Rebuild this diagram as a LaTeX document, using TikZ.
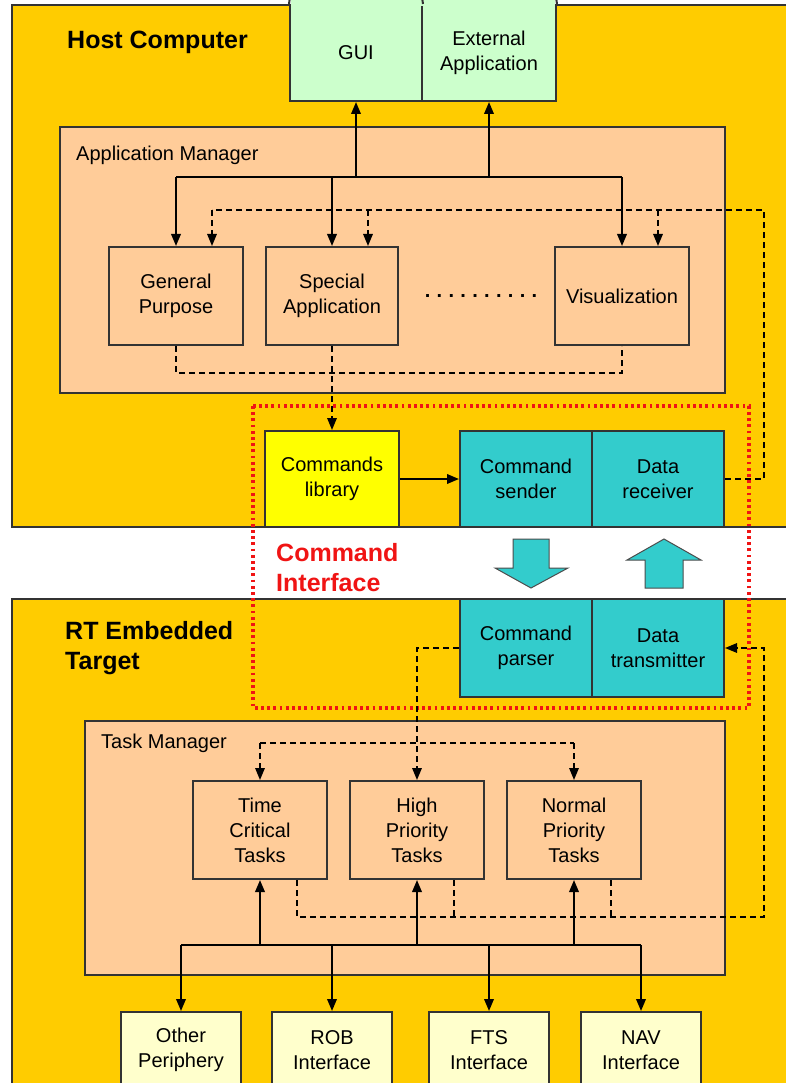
\documentclass[tikz,border=0pt]{standalone}
\usepackage{fontspec}
\setmainfont{Liberation Sans}
\usetikzlibrary{arrows.meta}
\definecolor{panelgold}{RGB}{255,204,0}
\definecolor{peach}{RGB}{255,204,153}
\definecolor{paleGreen}{RGB}{204,255,204}
\definecolor{libYellow}{RGB}{255,255,0}
\definecolor{ifCyan}{RGB}{51,204,204}
\definecolor{paleYellow}{RGB}{255,255,204}
\definecolor{frameRed}{RGB}{240,20,20}
\begin{document}
\begin{tikzpicture}[x=1pt,y=-1pt,
  panel/.style={draw=black!80, line width=2pt, fill=panelgold},
  mgr/.style={draw=black!80, line width=2pt, fill=peach, inner sep=0pt},
  boxline/.style={draw=black!80, line width=2pt},
  box/.style={boxline, align=center, inner sep=0pt,
              font=\fontsize{20}{25}\selectfont, text=black},
  title/.style={font=\fontsize{25}{30}\selectfont\bfseries, align=left, inner sep=0pt, anchor=west},
  label/.style={font=\fontsize{20}{25}\selectfont, inner sep=0pt, anchor=west},
  ln/.style={line width=2pt, draw=black},
  arr/.style={ln, -{Triangle[length=12pt,width=9.5pt]}},
  dsh/.style={line width=1.6pt, draw=black, dash pattern=on 6pt off 4pt},
  dsharr/.style={dsh, -{Triangle[length=12pt,width=9.5pt]}},
  blockarrow/.style={fill=ifCyan, draw=black!70, line width=1pt, line join=miter},
  redframe/.style={draw=frameRed, line width=3.2pt, dash pattern=on 2.8pt off 3.4pt}
]
\useasboundingbox (0,0) rectangle (786,1083);
\begin{scope}
\clip (0,0) rectangle (786,1083);
\fill[white] (0,0) rectangle (786,1083);

% ---------- the two platforms ----------
\draw[panel] (12,5) rectangle (800,527);
\draw[panel] (12,599) rectangle (800,1100);
\node[title] (hostT) at (67,42) {Host Computer};
\node[title] (rtT) at (65,648) {RT Embedded\\Target};

% ---------- host side ----------
\node[box, fill=paleGreen, minimum width=132pt, minimum height=96pt] (gui) at (356,53) {GUI};
\node[box, fill=paleGreen, minimum width=134pt, minimum height=96pt] (ext) at (489,53) {External\\Application};
% the two windows run on past the top edge
\fill[paleGreen] (291,-3) rectangle (555,6);
\draw[boxline] (gui.north west) -- (290,-3);
\draw[boxline] (gui.north east) -- (422,-3);
\draw[boxline] (ext.north east) -- (556,-3);

\node[mgr, minimum width=665pt, minimum height=266pt] (appmgr) at (392.5,260) {};
\node[label] (appmgrT) at (76,155) {Application Manager};

\node[box, fill=peach, minimum width=134pt, minimum height=98pt] (gp) at (176,296) {General\\Purpose};
\node[box, fill=peach, minimum width=132pt, minimum height=98pt] (sa) at (332,296) {Special\\Application};
\node[box, fill=peach, minimum width=134pt, minimum height=98pt] (vis) at (622,296) {Visualization};
\node[font=\fontsize{20}{25}\selectfont\bfseries, inner sep=0pt] (more) at (481,296)
  {.\kern6.3pt.\kern6.3pt.\kern6.3pt.\kern6.3pt.\kern6.3pt.\kern6.3pt.\kern6.3pt.\kern6.3pt.\kern6.3pt.};

\node[box, fill=libYellow, minimum width=134pt, minimum height=96pt] (cl) at (332,479) {Commands\\library};
\node[box, fill=ifCyan, minimum width=132pt, minimum height=96pt] (cs) at (526,479) {Command\\sender};
\node[box, fill=ifCyan, minimum width=132pt, minimum height=96pt] (dr) at (658,479) {Data\\receiver};

% solid distribution from GUI / external application
\coordinate (hb) at (0,177);
\draw[ln] (gp.north |- hb) -- (vis.north |- hb);
\draw[arr] (gui.south |- hb) -- (gui.south);
\draw[arr] (ext.south |- hb) -- (ext.south);
\draw[arr] (gp.north |- hb) -- (gp.north);
\draw[arr] (sa.north |- hb) -- (sa.north);
\draw[arr] (vis.north |- hb) -- (vis.north);

% data feedback from the receiver to the applications
\coordinate (dR) at (764,210);
\draw[dsh] (dr.east) -| (dR) -- ([xshift=36pt]gp.north |- dR);
\draw[dsharr] ([xshift=36pt]gp.north |- dR) -- ([xshift=36pt]gp.north);
\draw[dsharr] ([xshift=36pt]sa.north |- dR) -- ([xshift=36pt]sa.north);
\draw[dsharr] ([xshift=36pt]vis.north |- dR) -- ([xshift=36pt]vis.north);

% applications to the commands library
\coordinate (dB) at (0,373);
\draw[dsh] (gp.south) -- (gp.south |- dB) -- (vis.south |- dB) -- (vis.south);
\draw[dsharr] (sa.south) -- (cl.north);
\draw[arr] (cl.east) -- (cs.west);

% ---------- command interface ----------
\draw[redframe] (253,406) rectangle (749,708);
\node[title, text=frameRed] (ciT) at (276,568) {Command\\Interface};
\draw[blockarrow] (513,539) -- (549,539) -- (549,568) -- (568,568) -- (531,588)
  -- (495,568) -- (513,568) -- cycle;
\draw[blockarrow] (664,539) -- (701,560) -- (683,560) -- (683,588) -- (645,588)
  -- (645,560) -- (627,560) -- cycle;

% ---------- embedded target ----------
\node[box, fill=ifCyan, minimum width=132pt, minimum height=98pt] (cp) at (526,648) {Command\\parser};
\node[box, fill=ifCyan, minimum width=132pt, minimum height=98pt] (dt) at (658,648) {Data\\transmitter};

\node[mgr, minimum width=640pt, minimum height=254pt] (taskmgr) at (405,848) {};
\node[label] (taskmgrT) at (101,743) {Task Manager};

\node[box, fill=peach, minimum width=134pt, minimum height=98pt] (tc) at (260,830) {Time\\Critical\\Tasks};
\node[box, fill=peach, minimum width=134pt, minimum height=98pt] (hp) at (417,830) {High\\Priority\\Tasks};
\node[box, fill=peach, minimum width=134pt, minimum height=98pt] (np) at (574,830) {Normal\\Priority\\Tasks};

\node[box, fill=paleYellow, minimum width=120pt, minimum height=76pt] (op) at (181,1050) {Other\\Periphery};
\node[box, fill=paleYellow, minimum width=120pt, minimum height=76pt] (rob) at (332,1050) {ROB\\Interface};
\node[box, fill=paleYellow, minimum width=120pt, minimum height=76pt] (fts) at (489,1050) {FTS\\Interface};
\node[box, fill=paleYellow, minimum width=120pt, minimum height=76pt] (nav) at (641,1050) {NAV\\Interface};

% parsed commands to the high priority tasks
\draw[dsharr] (cp.west) -| (hp.north);

% task manager internal dispatch
\coordinate (tT) at (0,743);
\draw[dsh] (tc.north |- tT) -- (np.north |- tT);
\draw[dsharr] (tc.north |- tT) -- (tc.north);
\draw[dsharr] (np.north |- tT) -- (np.north);

% task data back to the transmitter
\coordinate (tR) at (764,917);
\draw[dsharr] ([xshift=37pt]tc.south) |- (tR) |- (dt.east);
\draw[dsh] ([xshift=37pt]hp.south) -- ([xshift=37pt]hp.south |- tR);
\draw[dsh] ([xshift=37pt]np.south) -- ([xshift=37pt]np.south |- tR);

% periphery bus
\coordinate (bB) at (0,945);
\draw[ln] (op.north |- bB) -- (nav.north |- bB);
\draw[arr] (tc.south |- bB) -- (tc.south);
\draw[arr] (hp.south |- bB) -- (hp.south);
\draw[arr] (np.south |- bB) -- (np.south);
\draw[arr] (op.north |- bB) -- (op.north);
\draw[arr] (rob.north |- bB) -- (rob.north);
\draw[arr] (fts.north |- bB) -- (fts.north);
\draw[arr] (nav.north |- bB) -- (nav.north);
\end{scope}
\end{tikzpicture}
\end{document}
